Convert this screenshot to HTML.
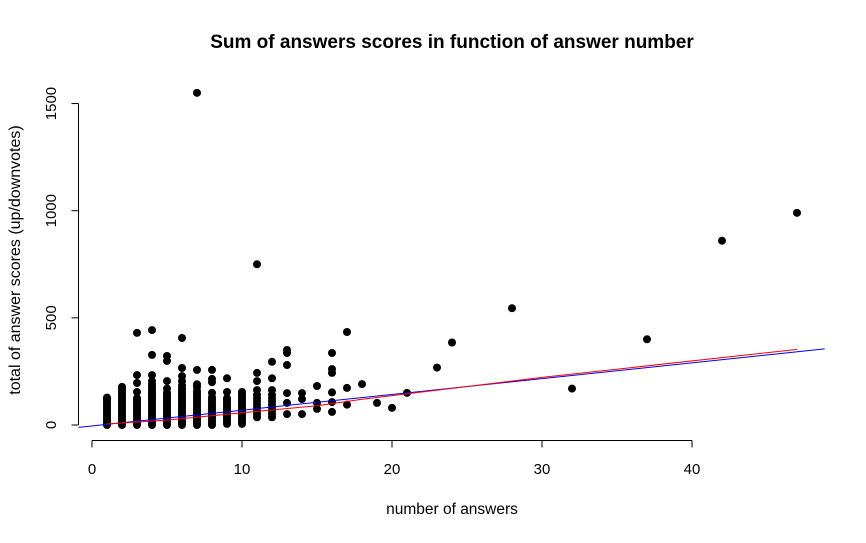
<!DOCTYPE html>
<html><head><meta charset="utf-8"><style>
body{margin:0;background:#fff}
svg text{font-family:"Liberation Sans",Arial,sans-serif}
</style></head><body>
<svg id="chart" width="866" height="538" xmlns="http://www.w3.org/2000/svg">
<rect width="866" height="538" fill="#fff"/>
<text x="452" y="48" text-anchor="middle" font-size="19" font-weight="bold">Sum of answers scores in function of answer number</text>
<text x="452" y="514" text-anchor="middle" font-size="15.5">number of answers</text>
<text transform="translate(20,260) rotate(-90)" text-anchor="middle" font-size="16">total of answer scores (up/downvotes)</text>
<g id="axes"></g><g id="pts"></g><g id="lines"></g>
</svg>
<script>
const xTicks=[0,10,20,30,40];
const yTicks=[0,500,1000,1500];
const colX=[1,2,3,4,5,6,7,8,9,10,11,12,13,14,15,16,17,18,19,20,21,23,24,28,32,37,42,47];
const colVals=[
[0,10,20,30,40,50,60,70,80,90,100,110,120,128],
[0,10,20,30,40,50,60,70,80,90,100,110,120,130,140,150,160,170,178],
[0,10,20,30,40,50,60,70,80,90,100,110,120,125,154,196,233,430],
[0,10,20,30,40,50,60,70,80,90,100,110,120,130,140,150,160,170,180,190,205,233,327,443],
[0,10,20,30,40,50,60,70,80,90,100,110,120,130,140,150,170,205,299,322],
[0,10,20,30,40,50,60,70,80,90,100,110,120,130,140,150,160,170,185,205,228,266,406],
[0,10,20,30,40,50,60,70,80,90,100,110,120,130,140,150,160,178,190,257,1550],
[0,10,20,30,40,50,60,70,80,90,100,110,120,130,150,200,215,257],
[5,15,25,35,45,55,65,75,85,95,105,115,125,154,218],
[5,15,25,35,45,55,65,75,85,95,105,115,125,135,145,154],
[36,50,65,80,95,110,125,140,163,205,243,750],
[36,50,65,80,95,110,125,140,163,218,295],
[51,103,149,280,336,350],
[51,121,149],
[75,103,182],
[61,107,152,243,261,336],
[95,173,434],
[191],[103],[80],[150],[268],[385],[545],[170],[400],[860],[990]];
const redX=[1,5,10,15,18,30,47];
const redY=[5,23,57,90,120,222,353];
const blueA=-4.5, blueB=7.36;
const sx=v=>92+v*15.0;
const sy=v=>425-v*0.2143;
const NS="http://www.w3.org/2000/svg";
function mk(t,a,p){const e=document.createElementNS(NS,t);for(const k in a)e.setAttribute(k,a[k]);p.appendChild(e);return e;}
const ax=document.getElementById('axes');
let l=mk('line',{x1:sx(xTicks[0]),x2:sx(xTicks[xTicks.length-1]),y1:440.5,y2:440.5,stroke:'#000'},ax);


xTicks.forEach(t=>{mk('line',{x1:sx(t),x2:sx(t),y1:440.5,y2:447.5,stroke:'#000'},ax);
const tx=mk('text',{x:sx(t),y:474,'text-anchor':'middle','font-size':15},ax);tx.textContent=t;

});
l=mk('line',{x1:78.5,x2:78.5,y1:sy(yTicks[0]),y2:sy(yTicks[yTicks.length-1]),stroke:'#000'},ax);


yTicks.forEach(t=>{mk('line',{x1:71.5,x2:78.5,y1:sy(t),y2:sy(t),stroke:'#000'},ax);
const tx=mk('text',{transform:`translate(56,${sy(t)}) rotate(-90)`,'text-anchor':'middle','font-size':15},ax);tx.textContent=t;

});
const pg=document.getElementById('pts');
colX.forEach((x,i)=>{colVals[i].forEach(v=>{const c=mk('circle',{cx:sx(x),cy:sy(v),r:4,fill:'#000'},pg);

});});
const lg=document.getElementById('lines');
const x0=-0.9,x1=48.84;
const bl=mk('line',{x1:sx(x0),y1:sy(blueA+blueB*x0),x2:sx(x1),y2:sy(blueA+blueB*x1),stroke:'#0000ff','stroke-width':1},lg);


const rl=mk('polyline',{points:redX.map((x,i)=>sx(x)+','+sy(redY[i])).join(' '),fill:'none',stroke:'#ff0000','stroke-width':1},lg);


</script>
</body></html>
